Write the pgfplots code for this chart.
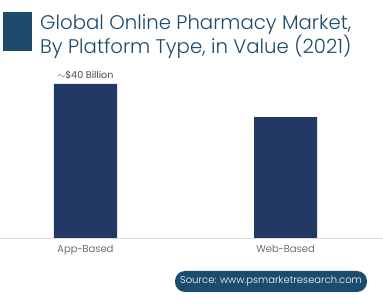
\documentclass[border=0pt]{standalone}
\usepackage{pgfplots}
\pgfplotsset{compat=1.18}
\usepackage{fontspec}
\setmainfont{Poppins}[UprightFont=* Light]
\newfontfamily\popreg{Poppins}
\definecolor{barnavy}{HTML}{233864}
\definecolor{titleblue}{HTML}{1D4B6B}
\definecolor{boxblue}{HTML}{1B4C6D}
\definecolor{txtgray}{HTML}{4A4A4A}
\begin{document}
\begin{tikzpicture}
\useasboundingbox (0pt,0pt) rectangle (383pt,-304pt);
\fill[white] (0pt,0pt) rectangle (383pt,-304pt);
% title block
\fill[titleblue] (3pt,-12pt) rectangle (32pt,-51pt);
\node[anchor=base west, inner sep=0pt, text=titleblue, font=\fontsize{19.7}{22}\selectfont] at (40pt,-30pt) {Global Online Pharmacy Market,};
\node[anchor=base west, inner sep=0pt, text=titleblue, font=\fontsize{19.7}{22}\selectfont] at (40pt,-54pt) {By Platform Type, in Value (2021)};
\begin{axis}[
  at={(0pt,-238pt)}, anchor=south west,
  scale only axis, width=383pt, height=154pt,
  xmin=-0.4275, xmax=1.4875, ymin=0, ymax=40,
  axis y line=none,
  axis x line*=bottom,
  x axis line style={draw=gray!25, line width=0.8pt, -},
  xtick=data, xticklabels={App-Based,Web-Based},
  major tick length=0pt,
  xticklabel style={font=\fontsize{10}{12}\selectfont, text=txtgray, yshift=-4pt},
  clip=false,
  enlargelimits=false,
]
\addplot[ybar, bar width=63pt, fill=barnavy, draw=none] coordinates {(0,40) (1,31.4)};
\node[anchor=south, text=txtgray, font=\popreg\fontsize{9.6}{11}\selectfont, inner sep=0pt, yshift=4pt] at (axis cs:0,40) {$\sim$\$40 Billion};
\end{axis}
% source box
\fill[boxblue, rounded corners=10pt] (175pt,-271pt) rectangle (367pt,-292pt);
\node[text=white, font=\fontsize{10}{12}\selectfont] at (271pt,-281.5pt) {Source: www.psmarketresearch.com};
\end{tikzpicture}
\end{document}
